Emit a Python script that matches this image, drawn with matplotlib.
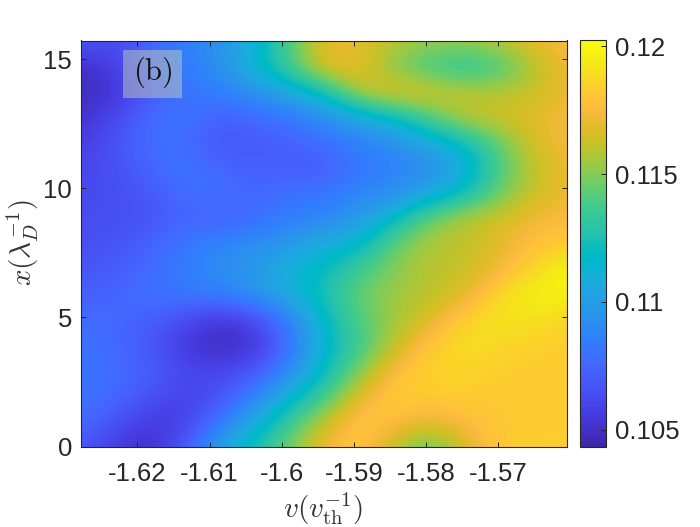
import numpy as np
import matplotlib
matplotlib.use('Agg')
import matplotlib.pyplot as plt
from matplotlib.colors import LinearSegmentedColormap
from matplotlib.patches import Rectangle

plt.rcParams['font.family'] = ['Liberation Sans', 'DejaVu Sans']
plt.rcParams['mathtext.fontset'] = 'cm'

V_MIN, V_MAX = -1.6279, -1.5605
X_MAX = 15.73
C_MIN, C_MAX = 0.10432, 0.12026

x_ticks = [-1.62, -1.61, -1.60, -1.59, -1.58, -1.57]
x_tick_labels = ['-1.62', '-1.61', '-1.6', '-1.59', '-1.58', '-1.57']
y_ticks = [0, 5, 10, 15]
c_ticks = [0.105, 0.11, 0.115, 0.12]
c_tick_labels = ['0.105', '0.11', '0.115', '0.12']

r00 = [.1068,.1056,.1048,.1070,.1103,.1125,.1147,.1175,.1183,.1160,.1140,.1165,.1183,.1184,.1184]
r01 = [.1078,.1066,.1055,.1058,.1082,.1108,.1134,.1162,.1183,.1178,.1170,.1176,.1182,.1184,.1184]
r02 = [.1082,.1076,.1066,.1058,.1066,.1087,.1113,.1135,.1170,.1184,.1184,.1184,.1183,.1183,.1183]
r03 = [.1082,.1078,.1072,.1062,.1060,.1068,.1090,.1120,.1148,.1178,.1186,.1187,.1184,.1183,.1183]
r04 = [.1080,.1076,.1068,.1054,.1047,.1052,.1078,.1115,.1135,.1160,.1183,.1190,.1187,.1185,.1184]
r05 = [.1078,.1076,.1072,.1062,.1052,.1060,.1085,.1118,.1140,.1155,.1166,.1187,.1192,.1190,.1186]
r06 = [.1072,.1074,.1080,.1083,.1085,.1095,.1108,.1125,.1145,.1155,.1160,.1165,.1190,.1198,.1197]
r07 = [.1067,.1071,.1077,.1084,.1093,.1098,.1113,.1120,.1137,.1150,.1160,.1162,.1172,.1188,.1199]
r08 = [.1064,.1067,.1074,.1083,.1089,.1092,.1098,.1110,.1115,.1145,.1158,.1160,.1168,.1178,.1185]
r09 = [.1064,.1064,.1067,.1074,.1072,.1078,.1085,.1088,.1097,.1118,.1145,.1160,.1165,.1173,.1175]
r10 = [.1062,.1064,.1069,.1079,.1078,.1075,.1080,.1082,.1088,.1092,.1105,.1120,.1145,.1163,.1172]
r11 = [.1061,.1065,.1075,.1082,.1076,.1072,.1070,.1070,.1082,.1085,.1090,.1105,.1138,.1160,.1172]
r12 = [.1057,.1067,.1079,.1078,.1067,.1069,.1073,.1078,.1085,.1092,.1105,.1120,.1143,.1166,.1175]
r13 = [.1051,.1061,.1078,.1082,.1072,.1076,.1082,.1092,.1105,.1118,.1140,.1160,.1165,.1168,.1175]
r14 = [.1048,.1052,.1070,.1080,.1085,.1095,.1105,.1122,.1160,.1172,.1168,.1160,.1160,.1162,.1172]
r15 = [.1048,.1058,.1075,.1085,.1092,.1114,.1138,.1170,.1172,.1148,.1135,.1128,.1135,.1158,.1172]
r16 = [.1070,.1062,.1075,.1085,.1095,.1112,.1138,.1172,.1168,.1160,.1155,.1155,.1160,.1170,.1178]

parula_colors = [
    (0.2422,0.1504,0.6603),(0.2504,0.1650,0.7076),(0.2578,0.1818,0.7511),(0.2647,0.1978,0.7952),
    (0.2706,0.2147,0.8364),(0.2751,0.2342,0.8710),(0.2783,0.2559,0.8991),(0.2803,0.2782,0.9221),
    (0.2813,0.3006,0.9414),(0.2810,0.3228,0.9579),(0.2795,0.3447,0.9717),(0.2760,0.3667,0.9829),
    (0.2699,0.3892,0.9906),(0.2602,0.4123,0.9952),(0.2440,0.4358,0.9988),(0.2206,0.4603,0.9973),
    (0.1963,0.4847,0.9892),(0.1834,0.5074,0.9798),(0.1786,0.5289,0.9682),(0.1764,0.5499,0.9520),
    (0.1687,0.5703,0.9359),(0.1540,0.5902,0.9218),(0.1460,0.6091,0.9079),(0.1380,0.6276,0.8973),
    (0.1248,0.6459,0.8883),(0.1113,0.6635,0.8763),(0.0952,0.6798,0.8598),(0.0689,0.6948,0.8394),
    (0.0297,0.7082,0.8163),(0.0036,0.7203,0.7917),(0.0067,0.7312,0.7660),(0.0433,0.7411,0.7394),
    (0.0964,0.7500,0.7120),(0.1408,0.7584,0.6842),(0.1717,0.7670,0.6554),(0.1938,0.7758,0.6251),
    (0.2161,0.7843,0.5923),(0.2470,0.7918,0.5567),(0.2906,0.7973,0.5188),(0.3406,0.8008,0.4789),
    (0.3909,0.8029,0.4354),(0.4456,0.8024,0.3909),(0.5044,0.7993,0.3480),(0.5616,0.7942,0.3045),
    (0.6174,0.7876,0.2612),(0.6720,0.7793,0.2227),(0.7242,0.7698,0.1910),(0.7738,0.7598,0.1646),
    (0.8203,0.7498,0.1535),(0.8634,0.7406,0.1596),(0.9035,0.7330,0.1774),(0.9393,0.7288,0.2100),
    (0.9728,0.7298,0.2394),(0.9956,0.7434,0.2371),(0.9970,0.7659,0.2199),(0.9952,0.7861,0.1990),
    (0.9892,0.8134,0.1766),(0.9786,0.8422,0.1517),(0.9676,0.8720,0.1246),(0.9610,0.8998,0.1015),
    (0.9597,0.9255,0.0813),(0.9626,0.9500,0.0650),(0.9691,0.9700,0.0580),(0.9763,0.9831,0.0538),
]
parula = LinearSegmentedColormap.from_list('parula', parula_colors, N=256)

Z = np.array([r00, r01, r02, r03, r04, r05, r06, r07, r08, r09, r10, r11, r12, r13, r14, r15, r16])
ny, nx = Z.shape
dv = (V_MAX - V_MIN) / (nx - 1)
dy = X_MAX / (ny - 1)

W, H = 700, 527
TXT = '#262626'
fig = plt.figure(figsize=(7.0, 5.27), dpi=100)


def box(x0, y0, x1, y1):
    return [x0 / W, 1 - y1 / H, (x1 - x0) / W, (y1 - y0) / H]


ax = fig.add_axes(box(80.5, 40.5, 566.7, 446.5))
im = ax.imshow(Z, origin='lower', aspect='auto', cmap=parula, vmin=C_MIN, vmax=C_MAX,
               interpolation='bicubic', interpolation_stage='data',
               extent=[V_MIN - dv / 2, V_MAX + dv / 2, -dy / 2, X_MAX + dy / 2])
ax.set_xlim(V_MIN, V_MAX)
ax.set_ylim(0, X_MAX)
ax.set_xticks(x_ticks, x_tick_labels)
ax.set_yticks(y_ticks, [str(t) for t in y_ticks])
ax.tick_params(direction='in', top=True, right=True, length=3.5, width=0.7, color=TXT,
               labelcolor=TXT, labelsize=18.5, pad=6)
ax.tick_params(axis='x', pad=11)
for s in ax.spines.values():
    s.set_linewidth(0.8)
    s.set_color(TXT)

# label tag
fig.add_artist(Rectangle((123.3 / W, 1 - 98.3 / H), 59 / W, 48.3 / H, transform=fig.transFigure,
                         facecolor='#cfd8b0', edgecolor='none', alpha=0.45))
fig.text(152.5 / W, 1 - 72 / H, r'$\mathrm{(b)}$', fontsize=22, ha='center', va='center', color='#111111')

fig.text(323 / W, 1 - 509 / H, r'$v(v_{\mathrm{th}}^{-1})$', fontsize=21, ha='center', va='center', color='#333333')
fig.text(23 / W, 1 - 243 / H, r'$x(\lambda_D^{-1})$', fontsize=21, ha='center', va='center',
         rotation=90, color='#333333')

cax = fig.add_axes(box(580.3, 39.5, 606.3, 447.3))
cb = fig.colorbar(im, cax=cax, ticks=c_ticks)
cb.ax.set_yticklabels(c_tick_labels)
cb.ax.tick_params(direction='in', length=3.5, width=0.7, color=TXT, labelcolor=TXT, labelsize=18.5, pad=6)
cb.outline.set_linewidth(0.8)
cb.outline.set_edgecolor(TXT)

fig.savefig('out.png', dpi=100)
